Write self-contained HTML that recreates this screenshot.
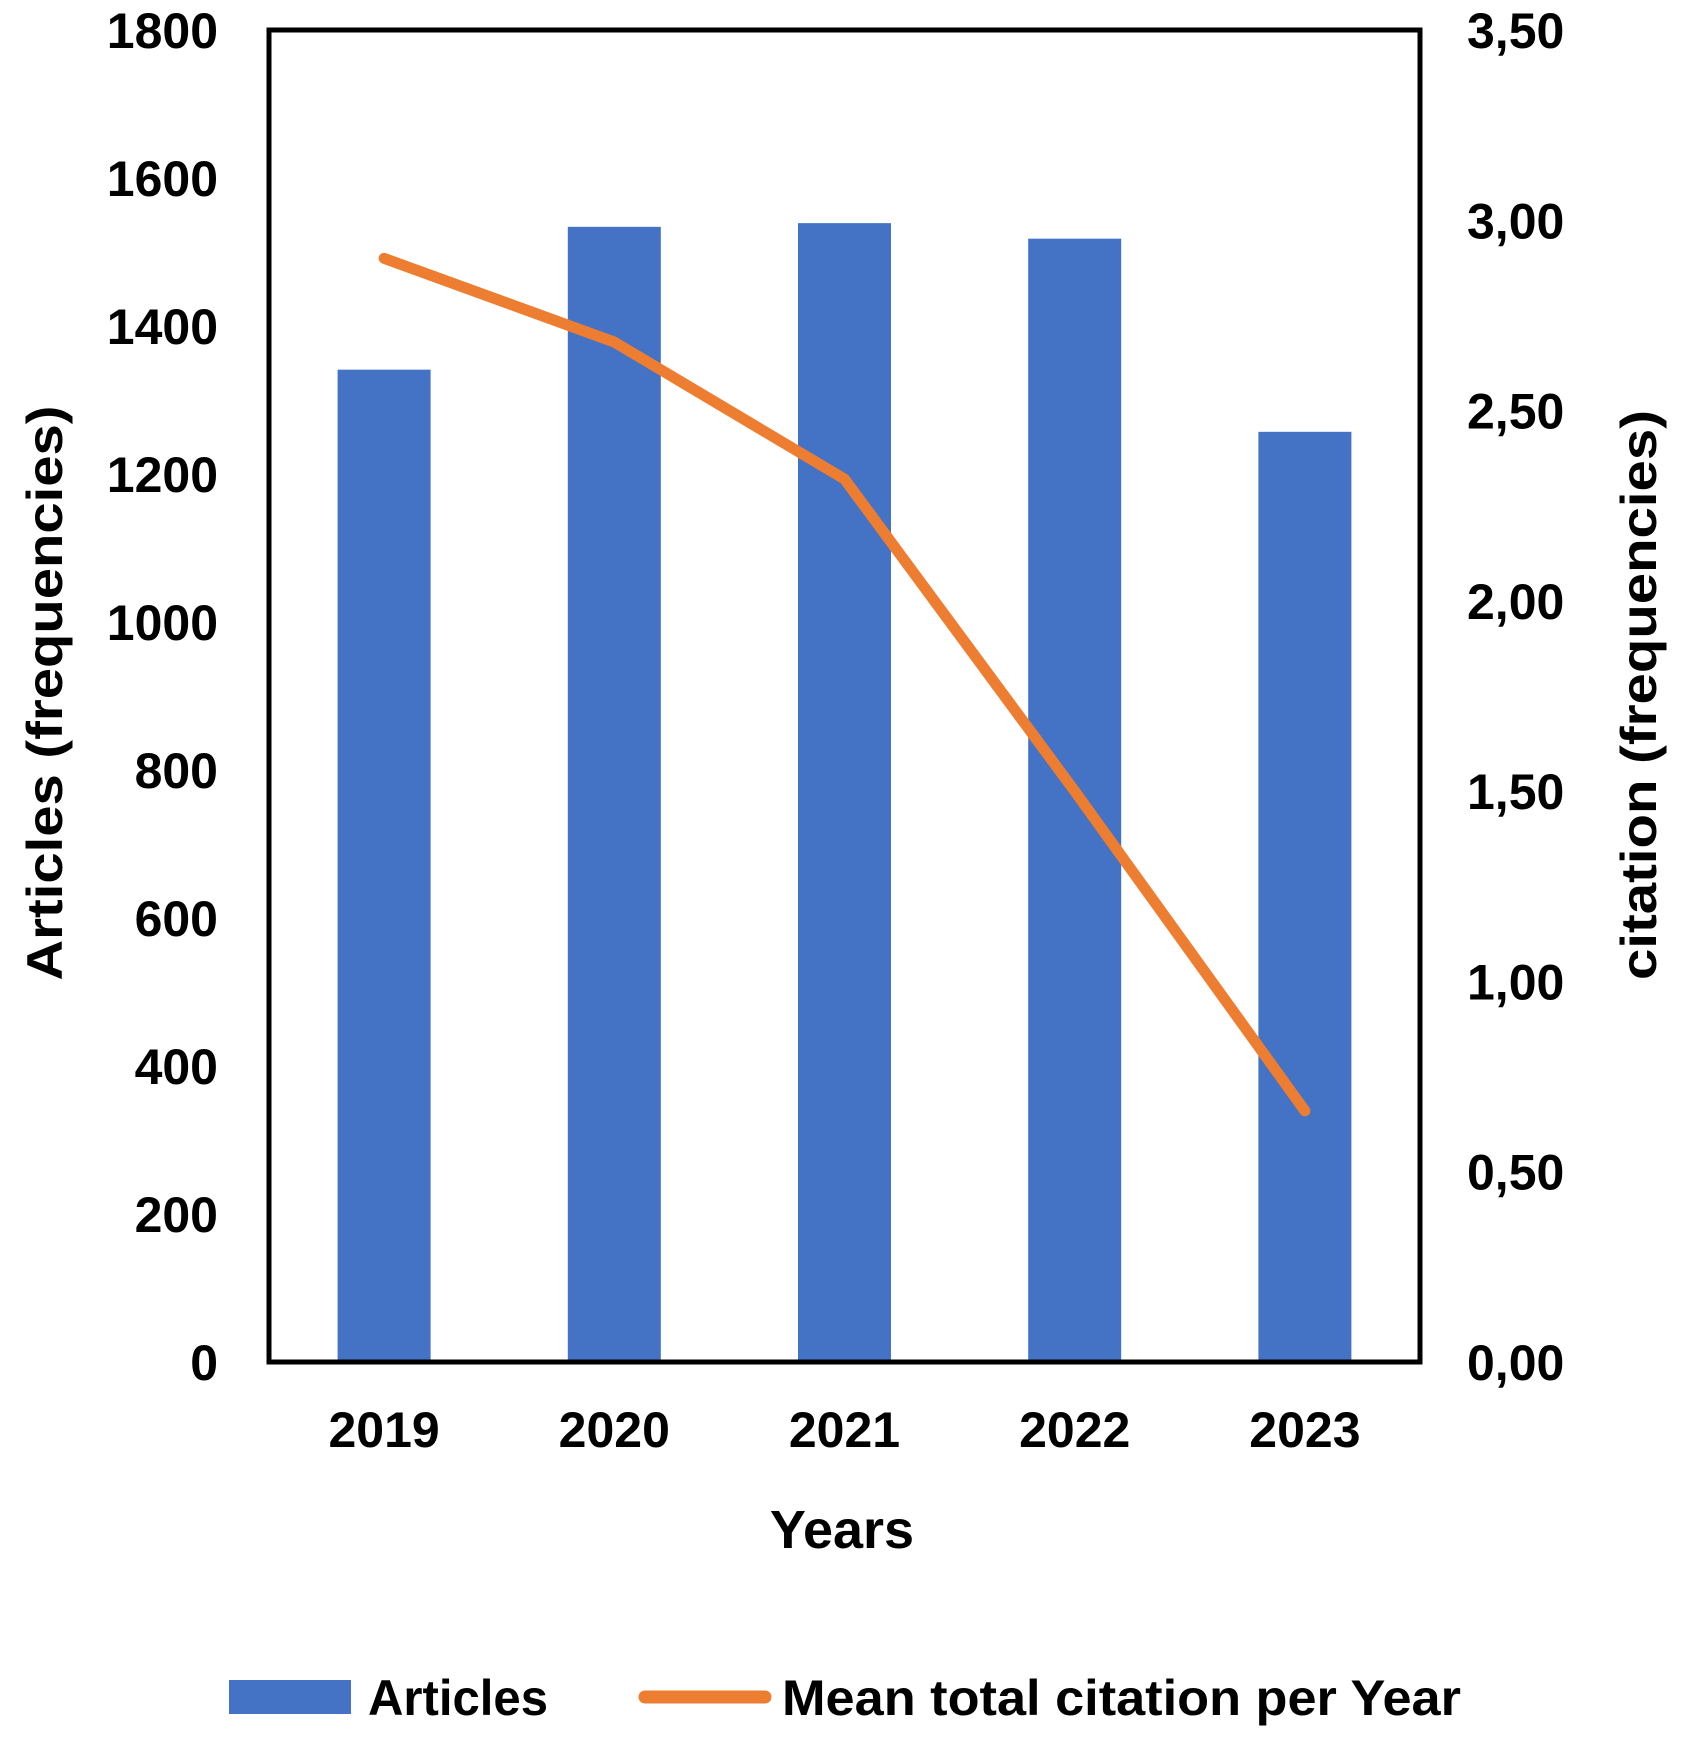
<!DOCTYPE html>
<html><head><meta charset="utf-8"><style>
html,body{margin:0;padding:0;background:#fff;}
svg{display:block;font-family:"Liberation Sans",Arial,sans-serif;font-weight:bold;}
</style></head><body>
<svg id="chart" width="1684" height="1740" viewBox="0 0 1684 1740" xmlns="http://www.w3.org/2000/svg"></svg>
<script>
const categories = ["2019","2020","2021","2022","2023"];
const articles = [1341, 1534, 1539, 1518, 1257];
const citations = [2.90, 2.68, 2.32, 1.50, 0.66];
const leftTicks = [0,200,400,600,800,1000,1200,1400,1600,1800];
const rightTicks = ["0,00","0,50","1,00","1,50","2,00","2,50","3,00","3,50"];

const NS = "http://www.w3.org/2000/svg";
const svg = document.getElementById("chart");
const L = 269, R = 1420, T = 30, B = 1362;
const leftMax = 1800, rightMax = 3.5;
const band = (R - L) / categories.length;
const xC = i => L + band * (i + 0.5);
const yL = v => B - (v / leftMax) * (B - T);
const yR = v => B - (v / rightMax) * (B - T);

function mk(tag, attrs, text) {
  const e = document.createElementNS(NS, tag);
  for (const k in attrs) e.setAttribute(k, attrs[k]);
  if (text !== undefined) e.textContent = text;
  svg.appendChild(e);
  return e;
}

const bw = 93;
articles.forEach((v, i) => {
  const r = mk("rect", {x: xC(i) - bw / 2, y: yL(v), width: bw, height: B - yL(v), fill: "#4472C4"});
  
  
});

const pts = citations.map((v, i) => xC(i) + "," + yR(v)).join(" ");
const line = mk("polyline", {points: pts, fill: "none", stroke: "#ED7D31", "stroke-width": 11, "stroke-linecap": "round", "stroke-linejoin": "round"});



const frame = mk("rect", {x: L, y: T, width: R - L, height: B - T, fill: "none", stroke: "#000", "stroke-width": 5});



leftTicks.forEach(v => {
  const t = mk("text", {x: 218, y: yL(v) + 18, "text-anchor": "end", "font-size": 50}, String(v));
  
  
});
rightTicks.forEach((s, i) => {
  const t = mk("text", {x: 1467, y: yR(i * 0.5) + 18, "font-size": 50}, s);
  
  
});
categories.forEach((c, i) => {
  const t = mk("text", {x: xC(i), y: 1447, "text-anchor": "middle", "font-size": 50}, c);
  
  
});
const xt = mk("text", {x: 842, y: 1548, "text-anchor": "middle", "font-size": 54}, "Years");



const yt = mk("text", {x: 0, y: 0, "text-anchor": "middle", "font-size": 50, textLength: 575, lengthAdjust: "spacingAndGlyphs", transform: "translate(62,693) rotate(-90)"}, "Articles (frequencies)");


const yt2 = mk("text", {x: 0, y: 0, "text-anchor": "middle", "font-size": 50, textLength: 570, lengthAdjust: "spacingAndGlyphs", transform: "translate(1656,695) rotate(-90)"}, "citation (frequencies)");



const lb = mk("rect", {x: 229, y: 1680, width: 122, height: 34, fill: "#4472C4"});


const lt = mk("text", {x: 368, y: 1715, "font-size": 50, textLength: 180, lengthAdjust: "spacingAndGlyphs"}, "Articles");


const ll = mk("line", {x1: 645, y1: 1697, x2: 765, y2: 1697, stroke: "#ED7D31", "stroke-width": 13, "stroke-linecap": "round"});


const lt2 = mk("text", {x: 782, y: 1715, "font-size": 50, textLength: 679, lengthAdjust: "spacingAndGlyphs"}, "Mean total citation per Year");


</script>
</body></html>
